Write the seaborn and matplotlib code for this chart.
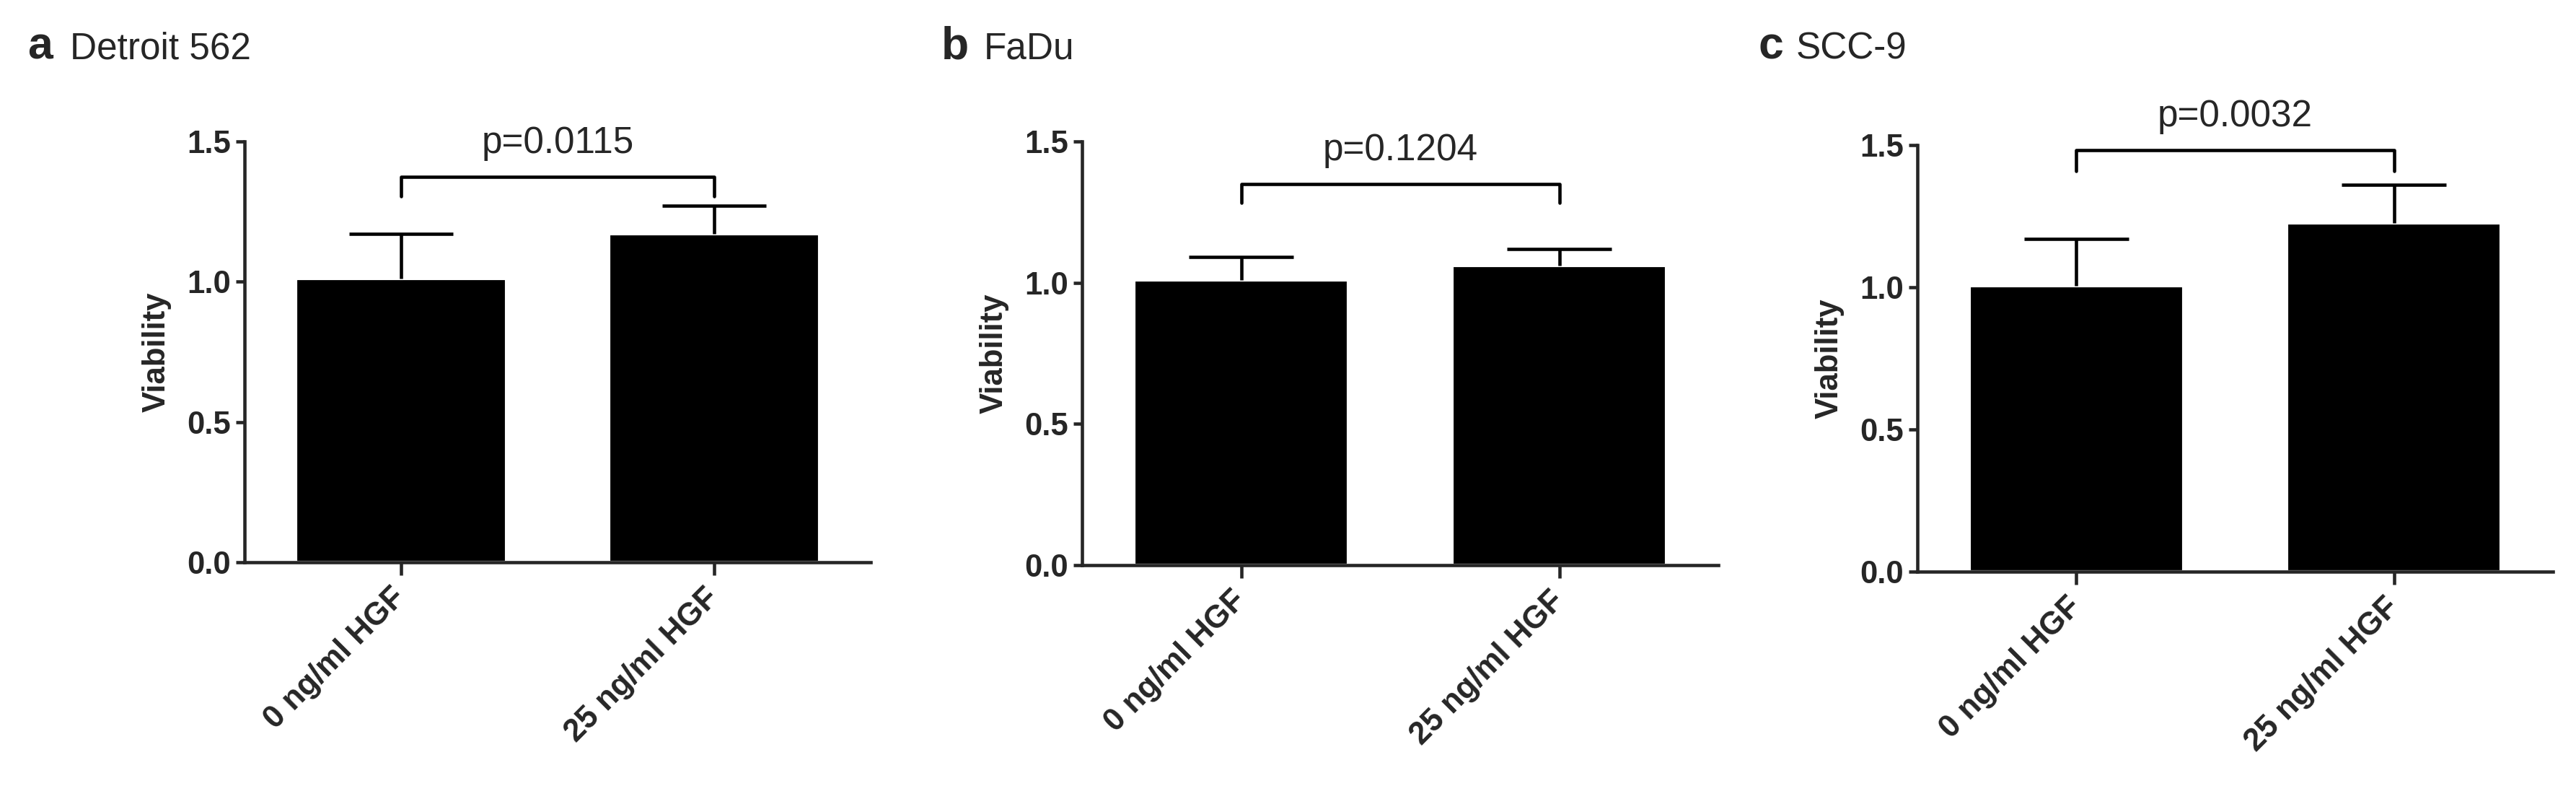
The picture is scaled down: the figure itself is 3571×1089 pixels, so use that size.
import numpy as np
import seaborn as sns
import matplotlib.pyplot as plt

# values
conditions = ['0 ng/ml HGF', '25 ng/ml HGF']
cell_lines = ['Detroit 562', 'FaDu', 'SCC-9']
panel_letters = ['a', 'b', 'c']
mean_viability = [[1.01, 1.17], [1.01, 1.06], [1.005, 1.225]]
sd_viability = [[0.16, 0.10], [0.08, 0.06], [0.165, 0.135]]
p_values = ['p=0.0115', 'p=0.1204', 'p=0.0032']
bracket_top = [1.374, 1.349, 1.482]
bracket_leg = [1.304, 1.282, 1.408]

sns.set_style('ticks')
plt.rcParams['font.family'] = ['Liberation Sans', 'DejaVu Sans']

W, H, DPI = 3571, 1089, 300
fig = plt.figure(figsize=(W / DPI, H / DPI), dpi=DPI)

# axes boxes in pixels: left, top(y=1.5), bottom(y=0), width
boxes = [(339, 196, 779, 868), (1500, 196, 783, 882), (2658, 201, 792, 881)]
letter_x = [38, 1305, 2437]
name_x = [97, 1364, 2490]
cap = 0.165

for i in range(3):
    l, t, b, w = boxes[i]
    ax = fig.add_axes([l / W, 1 - b / H, w / W, (b - t) / H])
    sns.barplot(x=conditions, y=mean_viability[i], color='black', width=0.675,
                errorbar=None, saturation=1, ax=ax)
    # upper-only error bars
    xs = np.arange(len(conditions))
    means = np.array(mean_viability[i])
    tops = means + np.array(sd_viability[i])
    ax.vlines(xs, means, tops, color='black', lw=1.1)
    ax.hlines(tops, xs - cap, xs + cap, color='black', lw=1.1)

    ax.set_xlim(-0.5, 1.5)
    ax.set_ylim(0, 1.5)
    ax.set_yticks([0, 0.5, 1.0, 1.5])
    ax.set_yticklabels(['0.0', '0.5', '1.0', '1.5'])
    ax.set_ylabel('Viability', fontsize=10.5, fontweight='bold', labelpad=5)
    ax.tick_params(axis='y', length=2.8, width=1.1, labelsize=10.5, pad=1.8)
    ax.tick_params(axis='x', length=4.3, width=1.1, labelsize=10.5, pad=6)
    for lab in ax.get_yticklabels():
        lab.set_fontweight('bold')
    for lab in ax.get_xticklabels():
        lab.set_fontweight('bold')
        lab.set_rotation(45)
        lab.set_ha('right')
        lab.set_va('center')
        lab.set_rotation_mode('anchor')
    sns.despine(ax=ax)
    for s in ['left', 'bottom']:
        ax.spines[s].set_linewidth(1.1)

    # significance bracket
    ax.plot([0, 0, 1, 1], [bracket_leg[i], bracket_top[i], bracket_top[i], bracket_leg[i]],
            color='black', lw=1.1, clip_on=False)
    ax.text(0.5, bracket_top[i] + 0.085, p_values[i], ha='center', va='baseline',
            fontsize=12.3, clip_on=False)

    fig.text(letter_x[i] / W, 1 - 82 / H, panel_letters[i], fontsize=15,
             fontweight='bold', va='baseline', ha='left')
    fig.text(name_x[i] / W, 1 - 82 / H, cell_lines[i], fontsize=12.3,
             va='baseline', ha='left')

fig.savefig('out.png', dpi=DPI)
